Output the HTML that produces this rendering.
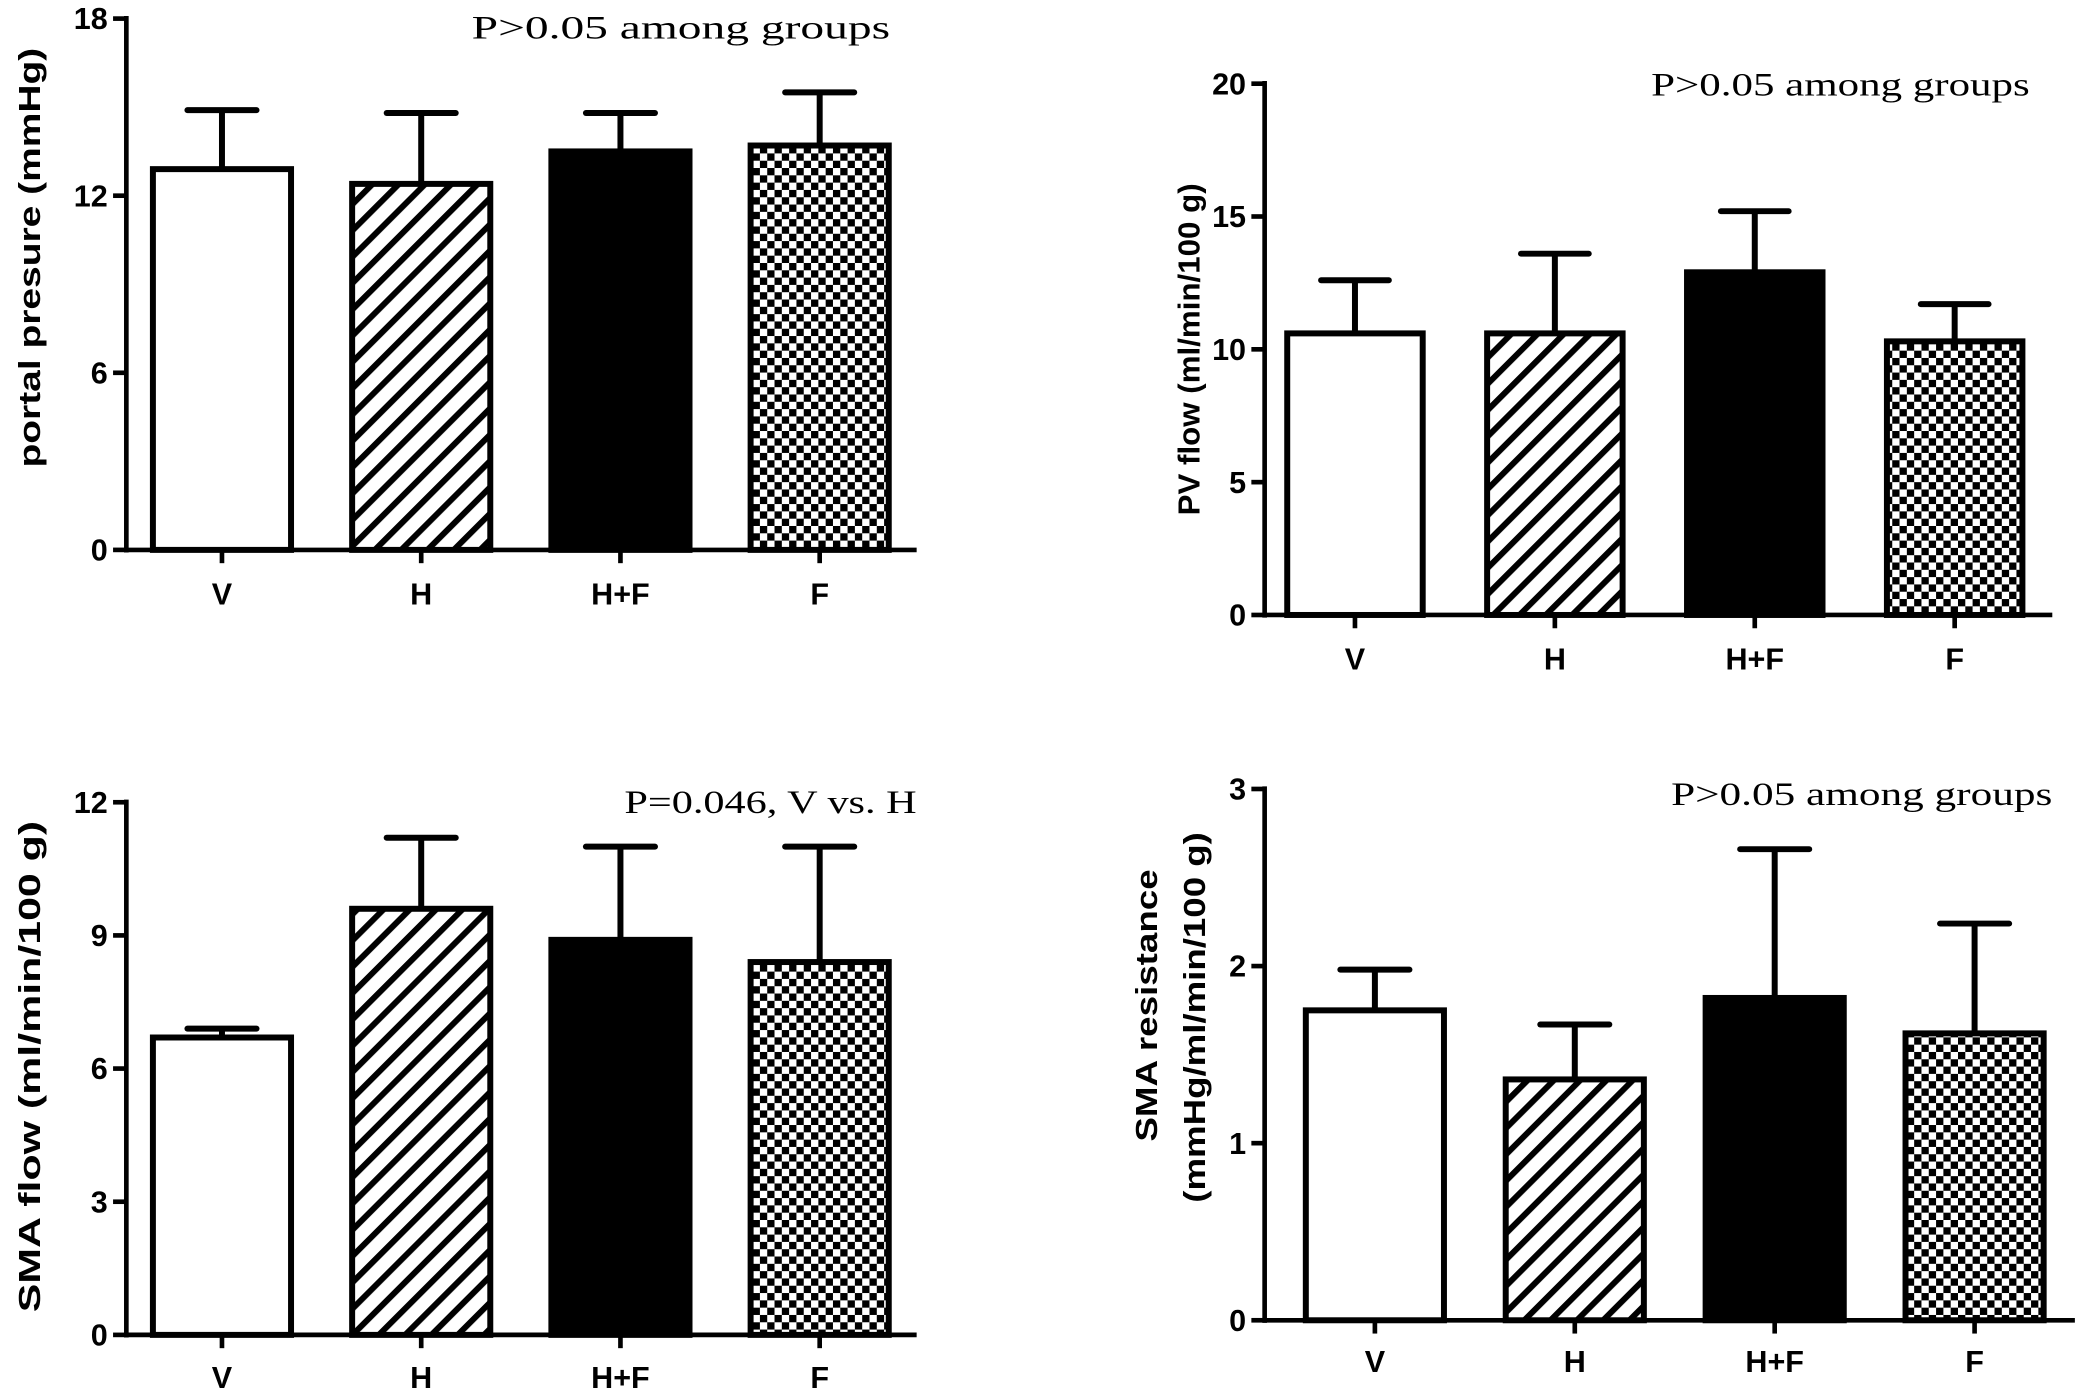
<!DOCTYPE html>
<html><head><meta charset="utf-8"><style>
html,body{margin:0;padding:0;background:#fff}
svg{display:block}
.ax{font-family:"Liberation Sans",sans-serif;font-weight:bold;font-size:23px}
.an{font-family:"Liberation Serif",serif;font-size:25px}
</style></head><body>
<svg id="fig" width="2083" height="1392" viewBox="0 0 1568 1048" xmlns="http://www.w3.org/2000/svg">
<defs>
<pattern id="hatch" patternUnits="userSpaceOnUse" width="14" height="14" patternTransform="rotate(45)">
<rect width="14" height="14" fill="#fff"/><rect x="0" y="0" width="4.5" height="14" fill="#000"/></pattern>
<pattern id="check" patternUnits="userSpaceOnUse" width="11" height="11">
<rect width="11" height="11" fill="#fff"/><rect width="5.5" height="5.5" fill="#000"/><rect x="5.5" y="5.5" width="5.5" height="5.5" fill="#000"/></pattern>
</defs>
</svg>
<script>
const categories = ["V","H","H+F","F"];
const p1Values = [12.9,12.4,13.5,13.7];
const p1Errors = [14.9,14.8,14.8,15.5];
const p1Ticks = [0,6,12,18];
const p2Values = [10.6,10.6,12.9,10.3];
const p2Errors = [12.6,13.6,15.2,11.7];
const p2Ticks = [0,5,10,15,20];
const p3Values = [6.7,9.6,8.9,8.4];
const p3Errors = [6.9,11.2,11.0,11.0];
const p3Ticks = [0,3,6,9,12];
const p4Values = [1.75,1.36,1.82,1.62];
const p4Errors = [1.98,1.67,2.66,2.24];
const p4Ticks = [0,1,2,3];
const fills = ["#fff","url(#hatch)","#000","url(#check)"];

const NS="http://www.w3.org/2000/svg";
const svg=document.getElementById('fig');
function mk(tag,attrs,parent){const e=document.createElementNS(NS,tag);for(const k in attrs)e.setAttribute(k,attrs[k]);(parent||svg).appendChild(e);return e;}

function panel(id,cfg,values,errors,ticks){
  const g=mk('g',{});
  
  
  const {x0,yTop,yBot,max,x1,firstBar,step,bw,labelY,note,noteX,noteY,noteLen,noteSize,titles}=cfg;
  const y=v=>yBot-(v/max)*(yBot-yTop);
  const xc=i=>firstBar+i*step;
  values.forEach((v,i)=>{
    const eb=mk('line',{x1:xc(i),x2:xc(i),y1:y(v),y2:y(errors[i]),stroke:'#000','stroke-width':4.5},g);
    
    
    const cap=mk('line',{x1:xc(i)-bw/4,x2:xc(i)+bw/4,y1:y(errors[i]),y2:y(errors[i]),stroke:'#000','stroke-width':4.5,'stroke-linecap':'round'},g);
    
    
    const r=mk('rect',{x:xc(i)-bw/2,y:y(v),width:bw,height:yBot-y(v),fill:fills[i],stroke:'#000','stroke-width':4.5},g);
    
    
    const t=mk('text',{x:xc(i),y:labelY,'text-anchor':'middle',class:'ax'},g);
    t.textContent=categories[i];
    
    
  });
  const ya=mk('line',{x1:x0,x2:x0,y1:yTop-2,y2:yBot+2,stroke:'#000','stroke-width':3.5},g);
  
  
  const xa=mk('line',{x1:x0,x2:x1,y1:yBot,y2:yBot,stroke:'#000','stroke-width':3.5},g);
  
  
  categories.forEach((c,i)=>{
    const tk=mk('line',{x1:xc(i),x2:xc(i),y1:yBot,y2:yBot+10,stroke:'#000','stroke-width':3.5},g);
    
    
  });
  ticks.forEach(v=>{
    const tk=mk('line',{x1:x0-10,x2:x0,y1:y(v),y2:y(v),stroke:'#000','stroke-width':3.5},g);
    
    
    const t=mk('text',{x:x0-14,y:y(v)+8,'text-anchor':'end',class:'ax'},g);
    t.textContent=v;
    
    
  });
  titles.forEach(tt=>{
    const t=mk('text',{x:tt.x,y:tt.c,'text-anchor':'middle',class:'ax','font-size':tt.fs,textLength:tt.len,lengthAdjust:'spacingAndGlyphs',transform:`rotate(-90 ${tt.x} ${tt.c})`},g);
    t.textContent=tt.s;
    
    
  });
  const n=mk('text',{x:noteX-noteLen,y:noteY,class:'an','font-size':noteSize,textLength:noteLen,lengthAdjust:'spacingAndGlyphs'},g);
  n.textContent=note;
  
  
}
panel('panel-portal-pressure',{x0:95,yTop:14,yBot:414,max:18,x1:690,firstBar:167,step:150,bw:104,labelY:455,note:'P>0.05 among groups',noteX:670,noteY:29,noteLen:315,noteSize:28,titles:[{s:'portal presure (mmHg)',x:30,c:194,len:316,fs:26}]},p1Values,p1Errors,p1Ticks);
panel('panel-pv-flow',{x0:952,yTop:63,yBot:463,max:20,x1:1545,firstBar:1020,step:150.5,bw:102,labelY:504,note:'P>0.05 among groups',noteX:1528,noteY:72,noteLen:285,noteSize:27,titles:[{s:'PV flow (ml/min/100 g)',x:903,c:263,len:250,fs:23}]},p2Values,p2Errors,p2Ticks);
panel('panel-sma-flow',{x0:95,yTop:604,yBot:1005,max:12,x1:690,firstBar:167,step:150,bw:104,labelY:1045,note:'P=0.046, V vs. H',noteX:690,noteY:612,noteLen:220,noteSize:24,titles:[{s:'SMA flow (ml/min/100 g)',x:30,c:803,len:370,fs:26}]},p3Values,p3Errors,p3Ticks);
panel('panel-sma-resistance',{x0:952,yTop:594,yBot:994,max:3,x1:1562,firstBar:1035,step:150.5,bw:104,labelY:1033,note:'P>0.05 among groups',noteX:1545,noteY:606,noteLen:287,noteSize:27,titles:[{s:'SMA resistance',x:871,c:757,len:205,fs:28},{s:'(mmHg/ml/min/100 g)',x:907,c:766,len:279,fs:26}]},p4Values,p4Errors,p4Ticks);
</script>
</body></html>
